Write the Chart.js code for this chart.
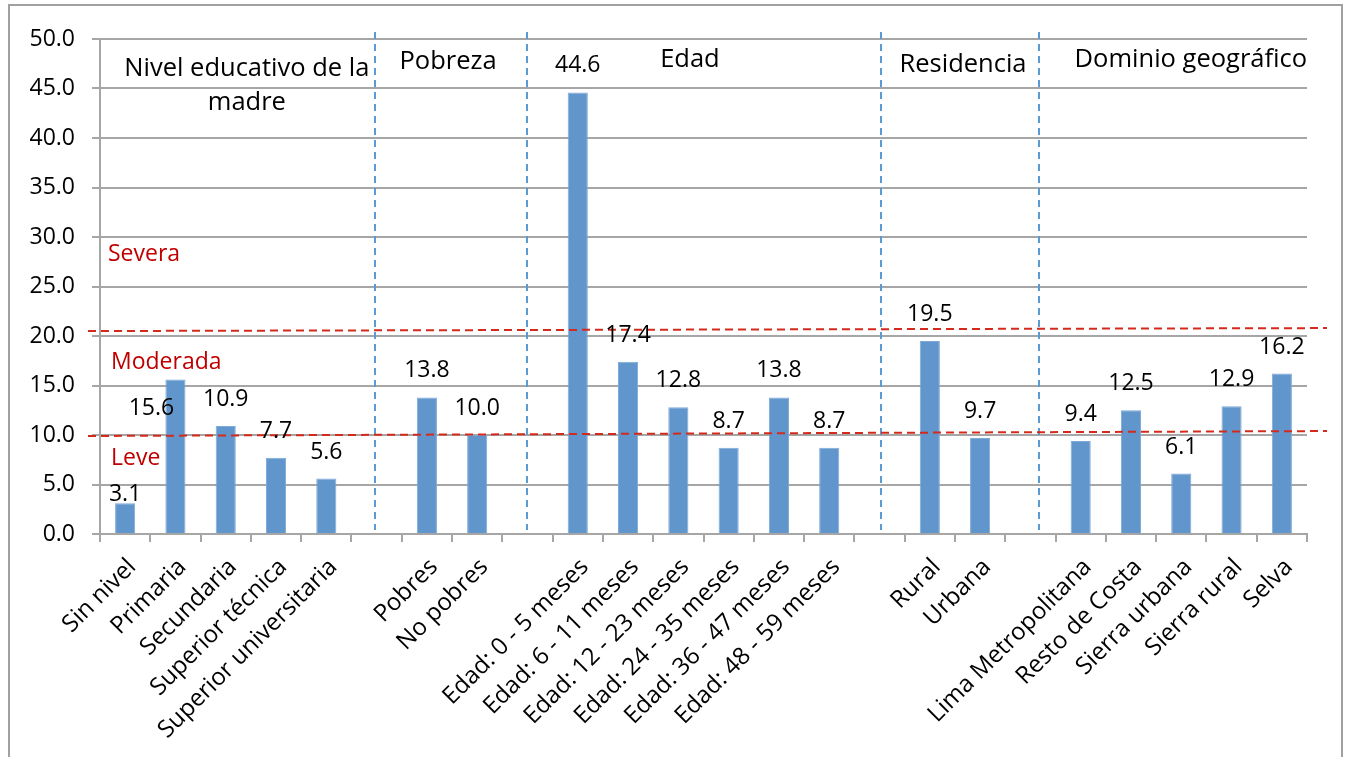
<!DOCTYPE html>
<html>
<head>
<meta charset="utf-8">
<script src="https://cdn.jsdelivr.net/npm/chart.js@4/dist/chart.umd.min.js"></script>
<style>
    body { margin: 0; background: #fff; }
    #wrap { position: relative; width: 1348px; height: 757px; overflow: hidden; }
</style>
</head>
<body>
<div id="wrap"><canvas id="anemiaChart" width="1348" height="757"></canvas></div>
<script>
// data ("" / null = empty slot between groups)
const categories = [
    "Sin nivel", "Primaria", "Secundaria", "Superior técnica", "Superior universitaria",
    "",
    "Pobres", "No pobres",
    "",
    "Edad: 0 - 5 meses", "Edad: 6 - 11 meses", "Edad: 12 - 23 meses",
    "Edad: 24 - 35 meses", "Edad: 36 - 47 meses", "Edad: 48 - 59 meses",
    "",
    "Rural", "Urbana",
    "",
    "Lima Metropolitana", "Resto de Costa", "Sierra urbana", "Sierra rural", "Selva"
];
const values = [
    3.1, 15.6, 10.9, 7.7, 5.6,
    null,
    13.8, 10.0,
    null,
    44.6, 17.4, 12.8, 8.7, 13.8, 8.7,
    null,
    19.5, 9.7,
    null,
    9.4, 12.5, 6.1, 12.9, 16.2
];
const yMin = 0;
const yMax = 50;
const yStep = 5;

const groupTitles = [["Nivel educativo de la", "madre"], ["Pobreza"], ["Edad"], ["Residencia"], ["Dominio geográfico"]];
const levelNames = ["Severa", "Moderada", "Leve"];
// cut-off lines as drawn (slightly tilted in the original): [left value, right value]
const cutLines = [[20.5, 20.8], [9.9, 10.4]];

// layout of the annotations (category units / value units)
const titlePos = [[2.42, 47.0], [6.42, 47.7], [11.23, 47.9], [16.66, 47.4], [21.19, 47.9]];
const levelPos = [28.2, 17.3, 7.6];
const dividerPos = [4.97, 8.0, 15.03, 18.18];
const labelNudge = { 0: [0, 18], 1: [-24, 55] };

const FONT = "'Open Sans', 'DejaVu Sans', sans-serif";
const GRID = "#a6a6a6";

const overlay = {
    id: "overlay",
    beforeDraw(chart) {
        const ctx = chart.ctx;
        ctx.save();
        ctx.strokeStyle = "#a0a0a0";
        ctx.lineWidth = 2;
        ctx.strokeRect(9, 5, 1333, 800);
        ctx.restore();
    },
    afterDatasetsDraw(chart) {
        const { ctx, chartArea } = chart;
        const x = chart.scales.x, y = chart.scales.y;
        ctx.save();

        // group dividers
        ctx.strokeStyle = "#5b9bd5";
        ctx.lineWidth = 2;
        ctx.setLineDash([7, 5]);
        dividerPos.forEach(p => {
            const px = Math.round(x.getPixelForValue(p));
            ctx.beginPath();
            ctx.moveTo(px, chartArea.top - 7);
            ctx.lineTo(px, chartArea.bottom - 4);
            ctx.stroke();
        });

        // cut-off lines
        ctx.strokeStyle = "#d42a1c";
        ctx.setLineDash([8, 5]);
        cutLines.forEach(([a, b]) => {
            ctx.beginPath();
            ctx.moveTo(chartArea.left - 12, y.getPixelForValue(a));
            ctx.lineTo(chartArea.right + 20, y.getPixelForValue(b));
            ctx.stroke();
        });
        ctx.setLineDash([]);

        // level names
        ctx.fillStyle = "#c00000";
        ctx.font = "23px " + FONT;
        ctx.textAlign = "left";
        ctx.textBaseline = "middle";
        levelNames.forEach((t, i) => {
            ctx.fillText(t, chartArea.left + 8 + (i === 0 ? 0 : 3), y.getPixelForValue(levelPos[i]));
        });

        // group titles
        ctx.fillStyle = "#000";
        ctx.font = "25.5px " + FONT;
        ctx.textAlign = "center";
        groupTitles.forEach((lines, i) => {
            const cx = x.getPixelForValue(titlePos[i][0]);
            const cy = y.getPixelForValue(titlePos[i][1]);
            lines.forEach((t, j) => ctx.fillText(t, cx, cy + j * 34));
        });

        // value labels
        ctx.font = "23px " + FONT;
        ctx.textBaseline = "alphabetic";
        chart.getDatasetMeta(0).data.forEach((bar, i) => {
            if (values[i] === null) return;
            const n = labelNudge[i] || [0, 0];
            ctx.fillText(values[i].toFixed(1), bar.x + n[0], bar.y - 20 + n[1]);
        });
        ctx.restore();
    }
};

new Chart(document.getElementById("anemiaChart"), {
    type: "bar",
    data: {
        labels: categories,
        datasets: [{
            data: values,
            backgroundColor: "#6196cc",
            borderColor: "#7ea9d8",
            borderWidth: 1,
            barPercentage: 0.4,
            categoryPercentage: 1.0
        }]
    },
    options: {
        responsive: false,
        animation: false,
        layout: { padding: { top: 39, right: 41, left: 0, bottom: 0 } },
        plugins: { legend: { display: false }, tooltip: { enabled: false } },
        scales: {
            x: {
                offset: true,
                afterFit: s => { s.height = 223; },
                grid: { drawOnChartArea: false, offset: true, color: GRID, lineWidth: 2, tickLength: 8 },
                border: { color: GRID, width: 2 },
                ticks: {
                    autoSkip: false, maxRotation: 45, minRotation: 45, padding: 11, labelOffset: 7,
                    color: "#000", font: { family: FONT, size: 24 }
                }
            },
            y: {
                min: yMin,
                max: yMax,
                afterFit: s => { s.width = 100; },
                grid: { color: GRID, lineWidth: 2, tickLength: 8 },
                border: { color: GRID, width: 2 },
                ticks: {
                    stepSize: yStep,
                    padding: 17,
                    color: "#000",
                    font: { family: FONT, size: 23 },
                    callback: v => v.toFixed(1)
                }
            }
        }
    },
    plugins: [overlay]
});
</script>
</body>
</html>
